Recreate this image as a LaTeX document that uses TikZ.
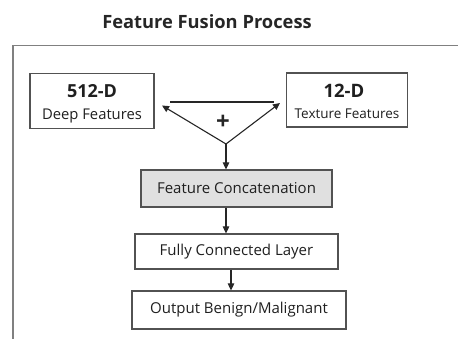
\documentclass[tikz,border=0pt]{standalone}
\usepackage{fontspec}
\setmainfont{Open Sans}
\usetikzlibrary{arrows.meta,calc}
\begin{document}
\begin{tikzpicture}[x=1pt,y=-1pt,
  box/.style={draw=black!68,line width=1.2pt,rectangle,inner sep=0pt,text=black!88},
  lbl/.style={inner sep=0pt,anchor=base,text=black!88},
  arr/.style={draw=black!85,line width=1.1pt,-{Triangle[length=7pt,width=6.5pt]}},
  ln/.style={draw=black!85,line width=1.1pt}]
\useasboundingbox (0,0) rectangle (458,339);
\node[lbl,font=\bfseries\fontsize{18.3}{20}\selectfont,text=black!85] (title) at (207,29) {Feature Fusion Process};
\draw[draw=black!50,line width=1.3pt] (458,45.5) -- (13,45.5) -- (13,339);
\node[box,minimum width=124,minimum height=55] (deep) at (92,101) {};
\node[lbl,font=\bfseries\fontsize{18}{20}\selectfont] (deepa) at (92,98) {512-D};
\node[lbl,font=\fontsize{14.8}{17}\selectfont] (deepb) at (92,119.5) {Deep Features};
\node[box,minimum width=121,minimum height=54] (tex) at (347,100) {};
\node[lbl,font=\bfseries\fontsize{18.5}{20}\selectfont] (texa) at (344,98) {12-D};
\node[lbl,font=\fontsize{13.5}{17}\selectfont] (texb) at (347,118.5) {Texture Features};
\coordinate (L) at (162,105.5);
\coordinate (R) at (280,103);
\coordinate (B) at (226,144);
\draw[ln] (170,102) -- (274,102);
\draw[arr] (B) -- (L);
\draw[arr] (B) -- (R);
\node[font=\bfseries\fontsize{24}{24}\selectfont,text=black!85] (plus) at (223,122) {+};
\node[box,fill=black!12,minimum width=191,minimum height=37] (concat) at (236.5,188.5)
  {\fontsize{15}{17}\selectfont Feature Concatenation};
\node[box,minimum width=203,minimum height=35] (fc) at (236.5,251.5)
  {\fontsize{15}{17}\selectfont Fully Connected Layer};
\node[box,minimum width=214,minimum height=38] (out) at (239,310)
  {\fontsize{15}{17}\selectfont Output Benign/Malignant};
\draw[arr] (B) -- (B |- concat.north);
\draw[arr] (concat.south -| B) -- (fc.north -| B);
\draw[arr] ([xshift=-5.5]fc.south) -- ([xshift=-5.5]fc.south |- out.north);
\end{tikzpicture}
\end{document}
